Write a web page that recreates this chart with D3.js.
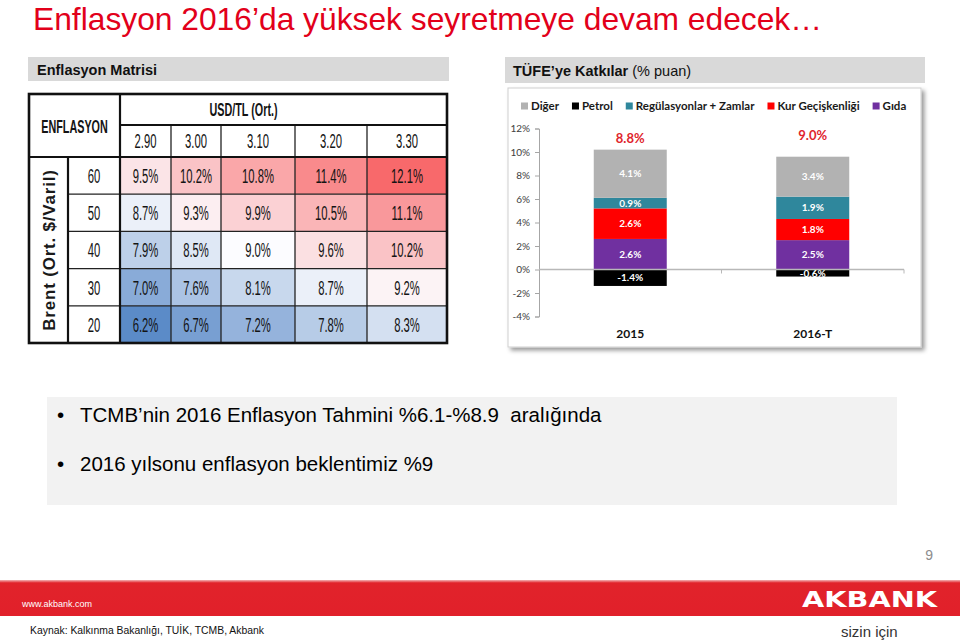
<!DOCTYPE html>
<html><head><meta charset="utf-8">
<script src="https://cdn.jsdelivr.net/npm/d3@7"></script>
<style>body{margin:0;background:#fff}svg{display:block}</style>
</head><body>
<svg id="c" width="960" height="644"></svg>
<script>
// ---------- data ----------
const titleText = "Enflasyon 2016’da yüksek seyretmeye devam edecek…";
const brentLevels = [60, 50, 40, 30, 20];
const usdtlLevels = ["2.90", "3.00", "3.10", "3.20", "3.30"];
const inflation60 = [9.5, 10.2, 10.8, 11.4, 12.1];
const inflation50 = [8.7, 9.3, 9.9, 10.5, 11.1];
const inflation40 = [7.9, 8.5, 9.0, 9.6, 10.2];
const inflation30 = [7.0, 7.6, 8.1, 8.7, 9.2];
const inflation20 = [6.2, 6.7, 7.2, 7.8, 8.3];

const years = ["2015", "2016-T"];
const seriesNames = ["Diğer", "Petrol", "Regülasyonlar + Zamlar", "Kur Geçişkenliği", "Gıda"];
const digerValues = [4.1, 3.4];
const petrolValues = [-1.4, -0.6];
const regulasyonValues = [0.9, 1.9];
const kurValues = [2.6, 1.8];
const gidaValues = [2.6, 2.5];
const totalValues = [8.8, 9.0];
const yTickValues = [12, 10, 8, 6, 4, 2, 0, -2, -4];

const bulletTexts = ["TCMB’nin 2016 Enflasyon Tahmini %6.1-%8.9  aralığında", "2016 yılsonu enflasyon beklentimiz %9"];
const sourceText = "Kaynak: Kalkınma Bakanlığı, TUİK, TCMB, Akbank";

// ---------- setup ----------
const svg = d3.select("#c");
const defs = svg.append("defs");
const f = defs.append("filter").attr("id", "sh").attr("x", "-5%").attr("y", "-5%").attr("width", "115%").attr("height", "115%");
f.append("feDropShadow").attr("dx", 3).attr("dy", 3).attr("stdDeviation", 2).attr("flood-color", "#000").attr("flood-opacity", 0.4);
const gr = defs.append("linearGradient").attr("id", "band").attr("x1", 0).attr("x2", 0).attr("y1", 0).attr("y2", 1);
gr.append("stop").attr("offset", "0%").attr("stop-color", "#f3b5b7");
gr.append("stop").attr("offset", "8%").attr("stop-color", "#e1232b");
gr.append("stop").attr("offset", "100%").attr("stop-color", "#e1202a");

const ARIAL = "'Liberation Sans',Arial,sans-serif";
const CAL = "Lato,'Open Sans',sans-serif";

// title
svg.append("text").attr("x", 33).attr("y", 30).attr("fill", "#e2001a")
  .style("font-family", ARIAL).style("font-size", "32px")
  .attr("textLength", 789).attr("lengthAdjust", "spacingAndGlyphs").text(titleText);

// section headers
svg.append("rect").attr("x", 28).attr("y", 57).attr("width", 421).attr("height", 24).attr("fill", "#d9d9d9");
svg.append("text").attr("x", 37).attr("y", 74.5).style("font-family", ARIAL).style("font-weight", "bold")
  .style("font-size", "14.5px").attr("fill", "#111").text("Enflasyon Matrisi");
svg.append("rect").attr("x", 505).attr("y", 57).attr("width", 420).attr("height", 26).attr("fill", "#d9d9d9");
const h2 = svg.append("text").attr("x", 513).attr("y", 75.5).style("font-family", ARIAL).style("font-size", "14.5px").attr("fill", "#111");
h2.append("tspan").style("font-weight", "bold").text("TÜFE’ye Katkılar");
h2.append("tspan").text(" (% puan)");

// ---------- heatmap ----------
const hm = svg.append("g");
const matrix = [inflation60, inflation50, inflation40, inflation30, inflation20];
const allVals = matrix.flat();
const colX = d3.scaleLinear().domain([0, 1, 2, 3, 4, 5]).range([120, 171, 221, 295, 367, 447]);
const rowY = d3.scaleBand().domain(brentLevels).range([157, 343]);
const color = d3.scaleLinear()
  .domain([d3.min(allVals), d3.median(allVals), d3.max(allVals)])
  .range(["#5b8bc8", "#fcfcff", "#f8696b"]);

hm.append("rect").attr("x", 29).attr("y", 94).attr("width", 418).attr("height", 249).attr("fill", "#fff");
const cells = brentLevels.flatMap((b, i) => usdtlLevels.map((u, j) => ({ b, u, j, v: matrix[i][j] })));
hm.selectAll("rect.cell").data(cells).join("rect").attr("class", "cell")
  .attr("x", d => colX(d.j)).attr("y", d => rowY(d.b))
  .attr("width", d => colX(d.j + 1) - colX(d.j)).attr("height", rowY.bandwidth())
  .attr("fill", d => color(d.v));

function condText(g, x, y, str, size, weight, sx) {
  return g.append("text").attr("transform", `translate(${x},${y}) scale(${sx},1)`)
    .attr("text-anchor", "middle").attr("dy", "0.36em")
    .style("font-family", ARIAL).style("font-size", size + "px").style("font-weight", weight)
    .attr("fill", "#141414").text(str);
}
cells.forEach(d => condText(hm, (colX(d.j) + colX(d.j + 1)) / 2, rowY(d.b) + rowY.bandwidth() / 2, d.v.toFixed(1) + "%", 20.5, "normal", 0.55));
usdtlLevels.forEach((u, j) => condText(hm, (colX(j) + colX(j + 1)) / 2, 141, u, 20.5, "normal", 0.55));
brentLevels.forEach(b => condText(hm, 94, rowY(b) + rowY.bandwidth() / 2, String(b), 20.5, "normal", 0.55));
condText(hm, 74.5, 127, "ENFLASYON", 18, "bold", 0.6);
condText(hm, (colX(0) + colX(4)) / 2, 110, "USD/TL (Ort.)", 18, "bold", 0.6);
hm.append("text").attr("transform", `translate(49,${(rowY.range()[0] + rowY.range()[1]) / 2}) rotate(-90)`)
  .attr("dy", "0.36em").attr("text-anchor", "middle")
  .style("font-family", ARIAL).style("font-size", "17px").style("font-weight", "bold").attr("fill", "#1a1a1a")
  .style("letter-spacing", "0.8px").text("Brent (Ort. $/Varil)");

// grid lines
const thin = [];
d3.range(1, 5).forEach(j => thin.push([colX(j), 125, colX(j), 343]));
brentLevels.slice(1).forEach(b => thin.push([68, rowY(b), 447, rowY(b)]));
hm.selectAll("line.thin").data(thin).join("line").attr("class", "thin")
  .attr("x1", d => d[0]).attr("y1", d => d[1]).attr("x2", d => d[2]).attr("y2", d => d[3])
  .attr("stroke", "#222").attr("stroke-width", 1.3);
const thick = [[120, 94, 120, 343], [68, 157, 68, 343], [120, 125, 447, 125], [29, 157, 447, 157]];
hm.selectAll("line.thick").data(thick).join("line").attr("class", "thick")
  .attr("x1", d => d[0]).attr("y1", d => d[1]).attr("x2", d => d[2]).attr("y2", d => d[3])
  .attr("stroke", "#111").attr("stroke-width", 2.2);
hm.append("rect").attr("x", 29).attr("y", 94).attr("width", 418).attr("height", 249)
  .attr("fill", "none").attr("stroke", "#111").attr("stroke-width", 2.6);

// ---------- stacked bar chart ----------
svg.append("rect").attr("x", 508).attr("y", 88).attr("width", 413).attr("height", 259)
  .attr("fill", "#fff").attr("stroke", "#cfcfcf").attr("filter", "url(#sh)");
const bc = svg.append("g");
const colors = { "Diğer": "#b2b2b2", "Petrol": "#000000", "Regülasyonlar + Zamlar": "#2f879c", "Kur Geçişkenliği": "#ff0000", "Gıda": "#7030a0" };
const y = d3.scaleLinear().domain([-4, 12]).range([316.5, 128.5]);
const x = d3.scaleBand().domain(years).range([539, 904]);
const rows = years.map((yr, i) => ({
  year: yr, "Diğer": digerValues[i], "Petrol": petrolValues[i], "Regülasyonlar + Zamlar": regulasyonValues[i],
  "Kur Geçişkenliği": kurValues[i], "Gıda": gidaValues[i], total: totalValues[i]
}));
const stackKeys = ["Gıda", "Kur Geçişkenliği", "Regülasyonlar + Zamlar", "Diğer", "Petrol"];
const stacked = d3.stack().keys(stackKeys).offset(d3.stackOffsetDiverging)(rows);
const bw = x.bandwidth() * 0.4;

// y axis
const ax = bc.append("g").attr("transform", "translate(539,0)")
  .call(d3.axisLeft(y).tickValues(yTickValues).tickFormat(d => d + "%").tickSize(4).tickPadding(5));
ax.select(".domain").attr("stroke", "#a6a6a6");
ax.selectAll(".tick line").attr("stroke", "#a6a6a6");
ax.selectAll(".tick text").style("font-family", CAL).style("font-size", "10px").attr("fill", "#404040");

const layers = bc.selectAll("g.layer").data(stacked).join("g").attr("class", "layer").attr("fill", d => colors[d.key]);
layers.selectAll("rect").data(d => d.map(p => ({ p, key: d.key }))).join("rect")
  .attr("x", d => x(d.p.data.year) + (x.bandwidth() - bw) / 2)
  .attr("y", d => y(Math.max(d.p[0], d.p[1])))
  .attr("width", bw)
  .attr("height", d => Math.abs(y(d.p[0]) - y(d.p[1])));

// zero line + category ticks
bc.append("line").attr("x1", x.range()[0]).attr("x2", x.range()[1]).attr("y1", y(0)).attr("y2", y(0))
  .attr("stroke", "#b8b8b8").attr("stroke-width", 1.5);
const edges = [x.range()[0]].concat(years.map(yr => x(yr) + x.bandwidth()));
bc.selectAll("line.ct").data(edges.slice(1)).join("line").attr("class", "ct")
  .attr("x1", d => d).attr("x2", d => d).attr("y1", y(0)).attr("y2", y(0) + 4).attr("stroke", "#b8b8b8");

// segment labels
stacked.forEach(layer => layer.forEach(p => {
  const v = p.data[layer.key];
  bc.append("text").attr("x", x(p.data.year) + x.bandwidth() / 2).attr("y", y((p[0] + p[1]) / 2)).attr("dy", "0.36em")
    .attr("text-anchor", "middle").style("font-family", CAL).style("font-size", "10px").style("font-weight", "bold")
    .attr("fill", "#fff").text(v.toFixed(1) + "%");
}));
// totals and categories
rows.forEach(r => {
  bc.append("text").attr("x", x(r.year) + x.bandwidth() / 2).attr("y", y(r.total + 2.4)).attr("dy", "0.36em")
    .attr("text-anchor", "middle").style("font-family", CAL).style("font-size", "13px").style("font-weight", "bold")
    .attr("fill", "#e0252c").text(r.total.toFixed(1) + "%");
  bc.append("text").attr("x", x(r.year) + x.bandwidth() / 2).attr("y", y.range()[0] + 17).attr("dy", "0.36em")
    .attr("text-anchor", "middle").style("font-family", CAL).style("font-size", "12px").style("font-weight", "bold")
    .attr("fill", "#111").text(r.year);
});

// legend
const lg = bc.append("g").attr("transform", "translate(521,106)");
let lx = 0;
seriesNames.forEach(n => {
  lg.append("rect").attr("x", lx).attr("y", -3.5).attr("width", 7).attr("height", 7).attr("fill", colors[n]);
  const t = lg.append("text").attr("x", lx + 10).attr("y", 0).attr("dy", "0.36em")
    .style("font-family", CAL).style("font-size", "11.5px").style("font-weight", "bold").attr("fill", "#1a1a1a").text(n);
  lx += 10 + t.node().getComputedTextLength() + 13;
});

// ---------- bullet box ----------
svg.append("rect").attr("x", 47).attr("y", 397).attr("width", 850).attr("height", 108).attr("fill", "#f2f2f2");
bulletTexts.forEach((t, i) => {
  svg.append("text").attr("x", 57).attr("y", 422 + i * 49).style("font-family", ARIAL).style("font-size", "20.5px").attr("fill", "#000").text("•");
  svg.append("text").attr("x", 80).attr("y", 422 + i * 49).style("font-family", ARIAL).style("font-size", "20.5px").attr("fill", "#000")
    .style("white-space", "pre").attr("xml:space", "preserve").text(t);
});

// ---------- footer ----------
svg.append("text").attr("x", 933).attr("y", 560).attr("text-anchor", "end").style("font-family", ARIAL).style("font-size", "14px").attr("fill", "#8c8c8c").text("9");
svg.append("rect").attr("x", 0).attr("y", 580).attr("width", 960).attr("height", 36).attr("fill", "url(#band)");
svg.append("text").attr("x", 22).attr("y", 607).style("font-family", ARIAL).style("font-size", "9px").attr("fill", "#fff").text("www.akbank.com");
svg.append("text").attr("x", 802).attr("y", 607).style("font-family", "'DejaVu Sans',sans-serif").style("font-weight", "bold")
  .style("font-size", "21px").attr("fill", "#fff").attr("textLength", 135).attr("lengthAdjust", "spacingAndGlyphs").text("AKBANK");
svg.append("text").attr("x", 30).attr("y", 634).style("font-family", ARIAL).style("font-size", "10.5px").attr("fill", "#111")
  .attr("textLength", 234).attr("lengthAdjust", "spacingAndGlyphs").text(sourceText);
svg.append("text").attr("x", 841).attr("y", 637).style("font-family", ARIAL).style("font-size", "15px").attr("fill", "#333").text("sizin için");
</script>
</body></html>
